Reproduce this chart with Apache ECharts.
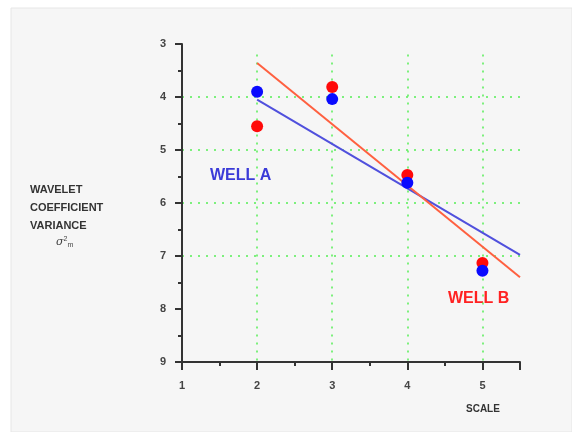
<!DOCTYPE html>
<html><head><meta charset="utf-8">
<style>html,body{margin:0;padding:0;background:#fff}#c{width:572px;height:432px}</style>
<script src="https://cdn.jsdelivr.net/npm/echarts@6/dist/echarts.min.js"></script>
</head><body><div id="c"></div>
<script>
const scales = [2, 3, 4, 5];
const wellA = [3.9, 4.04, 5.62, 7.28];
const wellB = [4.55, 3.81, 5.47, 7.13];
const fitA = [[2, 4.05], [5.5, 6.98]];
const fitB = [[2, 3.36], [5.5, 7.4]];
const xGrid = [2, 3, 4, 5];
const yGrid = [4, 5, 6, 7];
const xTicks = [1, 2, 3, 4, 5];
const yTicks = [3, 4, 5, 6, 7, 8, 9];

const chart = echarts.init(document.getElementById('c'), null, {renderer: 'canvas'});
const labelFont = {color: '#444', fontSize: 11, fontWeight: 'bold', fontFamily: 'Liberation Sans, Arial, sans-serif'};
const gridStyle = {color: '#55ee55', type: [2, 6], width: 1.5};
const gridLines = [];
xGrid.forEach(v => gridLines.push([{coord: [v, 3.2]}, {coord: [v, 9]}]));
yGrid.forEach(v => gridLines.push([{coord: [1, v]}, {coord: [5.5, v]}]));
gridLines.push([{coord: [1, 9]}, {coord: [5.5, 9]}]);

chart.setOption({
  backgroundColor: '#ffffff',
  animation: false,
  graphic: [
    {type: 'rect', shape: {x: 11, y: 8, width: 561, height: 424}, style: {fill: '#f6f6f6', stroke: '#e6e6e6', lineWidth: 1}, z: -10},
    {type: 'text', left: 30, top: 181, style: {text: 'WAVELET\nCOEFFICIENT\nVARIANCE', fill: '#333', font: 'bold 11px "Liberation Sans", Arial, sans-serif', lineHeight: 18}},
    {type: 'text', left: 56, top: 236, style: {text: '{a|σ}{s|2}{m|m}', rich: {a: {fill: '#444', font: 'italic 11px "DejaVu Serif", serif'}, s: {fill: '#444', font: '7px sans-serif', verticalAlign: 'top', padding: [0,0,6,0]}, m: {fill: '#444', font: '7px sans-serif', padding: [5,0,0,0]}}}},
    {type: 'text', left: 466, top: 404, style: {text: 'SCALE', fill: '#333', font: 'bold 10px "Liberation Sans", Arial, sans-serif'}},
    {type: 'text', left: 210, top: 168, style: {text: 'WELL A', fill: '#3b3bd8', font: 'bold 16px "Liberation Sans", Arial, sans-serif'}},
    {type: 'text', left: 448, top: 291, style: {text: 'WELL B', fill: '#ff2222', font: 'bold 16px "Liberation Sans", Arial, sans-serif'}}
  ],
  grid: {left: 182, right: 52, top: 44, bottom: 70, containLabel: false},
  xAxis: {
    type: 'value', min: 1, max: 5.5, interval: 1,
    axisLine: {onZero: false, lineStyle: {color: '#333', width: 2}},
    axisTick: {show: true, length: 8, lineStyle: {color: '#333', width: 2}},
    minorTick: {show: true, splitNumber: 2, length: 4, lineStyle: {color: '#333', width: 2}},
    splitLine: {show: false},
    axisLabel: Object.assign({margin: 18, formatter: v => xTicks.includes(v) ? String(v) : ''}, labelFont)
  },
  yAxis: {
    type: 'value', min: 3, max: 9, interval: 1, inverse: true,
    axisLine: {lineStyle: {color: '#333', width: 2}},
    axisTick: {show: true, length: 7, lineStyle: {color: '#333', width: 2}},
    minorTick: {show: true, splitNumber: 2, length: 4, lineStyle: {color: '#333', width: 2}},
    splitLine: {show: false},
    axisLabel: Object.assign({margin: 16, formatter: v => yTicks.includes(v) ? String(v) : ''}, labelFont)
  },
  series: [
    {type: 'line', data: [], z: 0, markLine: {z: 0, silent: true, symbol: 'none', label: {show: false}, lineStyle: gridStyle, data: gridLines}},
    {type: 'line', data: fitA, symbol: 'none', lineStyle: {color: '#5050dd', width: 2}, z: 2},
    {type: 'line', data: fitB, symbol: 'none', lineStyle: {color: '#ff6040', width: 2}, z: 2},
    {type: 'scatter', data: scales.map((x, i) => [x, wellB[i]]), symbolSize: 12, itemStyle: {color: '#ff0a0a', opacity: 1}, z: 6},
    {type: 'scatter', data: scales.map((x, i) => [x, wellA[i]]), symbolSize: 12, itemStyle: {color: '#0a0aff', opacity: 1}, z: 7}
  ]
});
</script></body></html>
